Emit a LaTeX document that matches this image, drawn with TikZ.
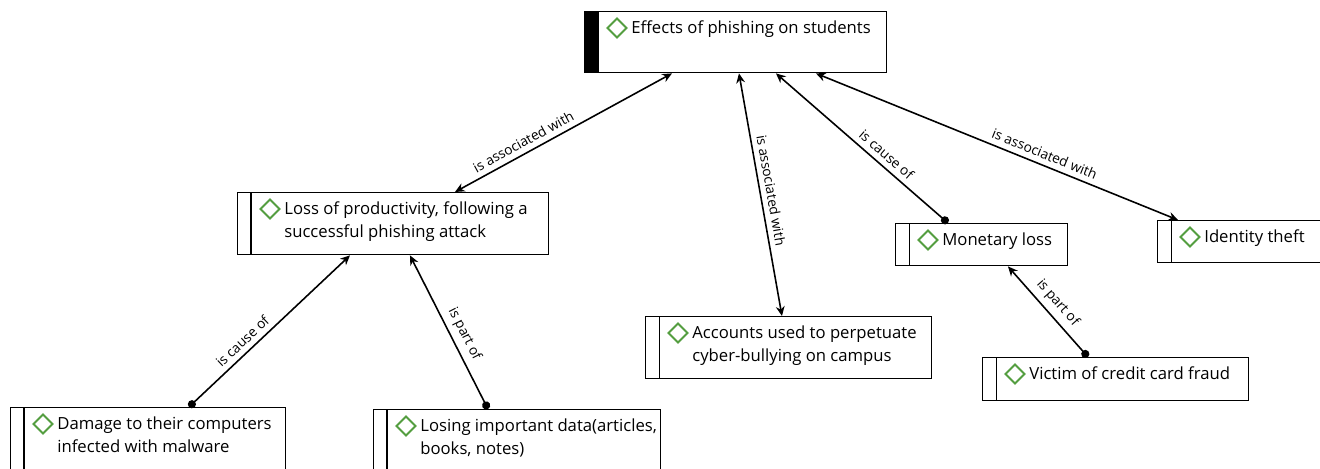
\documentclass[tikz,border=0pt]{standalone}
\usepackage{fontspec}
\setmainfont{Open Sans}
\usetikzlibrary{arrows.meta,shapes.geometric}

\definecolor{gemgreen}{RGB}{84,158,64}

% concept box: style, name, north west corner, width, height, text
\newcommand{\concept}[6]{%
  \node[#1, minimum width=#4, minimum height=#5] (#2) at (#3) {};
  \node[gem] (#2-gem) at ([xshift=0.66cm,yshift=-0.34cm]#2.north west) {};
  \node[conceptlabel] (#2-text) at ([xshift=0.94cm,yshift=-0.19cm]#2.north west) {#6};
}

\begin{document}
\begin{tikzpicture}[x=0.02cm, y=-0.02cm,
  conceptbox/.style={draw, line width=0.8pt, rectangle, anchor=north west, inner sep=0pt,
    path picture={\draw[line width=0.8pt] ([xshift=0.27cm]path picture bounding box.north west)
      -- ([xshift=0.27cm]path picture bounding box.south west);}},
  rootbox/.style={draw, line width=0.8pt, rectangle, anchor=north west, inner sep=0pt,
    path picture={\fill (path picture bounding box.north west)
      rectangle ([xshift=0.28cm]path picture bounding box.south west);}},
  gem/.style={diamond, draw=gemgreen, line width=1.1pt, minimum size=0.4cm, inner sep=0pt},
  conceptlabel/.style={anchor=north west, inner sep=0pt, align=left,
    font=\fontsize{9.5}{12.8}\selectfont},
  link/.style={line width=0.9pt},
  linklabel/.style={sloped, font=\fontsize{7.8}{9}\selectfont, inner sep=3pt},
  tip/.tip={Stealth[length=5.5pt,width=5pt]},
  dot/.tip={Circle[length=4.6pt]}]

\useasboundingbox (0,0) rectangle (1320,469);

\concept{rootbox}{effects}{584,11}{6.04cm}{1.22cm}{Effects of phishing on students}
\concept{conceptbox}{loss}{237,192}{6.22cm}{1.24cm}{Loss of productivity, following a\\successful phishing attack}
\concept{conceptbox}{damage}{10,407}{5.5cm}{1.4cm}{Damage to their computers\\infected with malware}
\concept{conceptbox}{losing}{373,409}{5.74cm}{1.4cm}{Losing important data(articles,\\books, notes)}
\concept{conceptbox}{accounts}{645,316}{5.72cm}{1.24cm}{Accounts used to perpetuate\\cyber-bullying on campus}
\concept{conceptbox}{monetary}{895,223}{3.44cm}{0.84cm}{Monetary loss}
\concept{conceptbox}{identity}{1157,220}{3.5cm}{0.84cm}{Identity theft}
\concept{conceptbox}{victim}{982,357}{5.32cm}{0.86cm}{Victim of credit card fraud}

% links from the root
\draw[link, tip-tip] ([xshift=4.36cm]loss.north west) --
  node[linklabel, above, pos=0.34] {is associated with} ([xshift=1.76cm]effects.south west);
\draw[link, tip-tip] ([xshift=3.1cm]effects.south west) --
  node[linklabel, above, pos=0.49] {is associated with} ([xshift=2.74cm]accounts.north west);
\draw[link, tip-dot] ([xshift=3.84cm]effects.south west) --
  node[linklabel, above, pos=0.6] {is cause of} ([xshift=1.06cm]monetary.north west);
\draw[link, tip-tip] ([xshift=4.64cm]effects.south west) --
  node[linklabel, above, pos=0.62] {is associated with} ([xshift=0.42cm]identity.north west);

% links to the lower concepts
\draw[link, dot-tip] ([xshift=3.58cm]damage.north west) --
  node[linklabel, above, pos=0.38] {is cause of} ([xshift=2.26cm]loss.south west);
\draw[link, tip-dot] ([xshift=3.46cm]loss.south west) --
  node[linklabel, above, pos=0.55] {is part of} ([xshift=2.3cm]losing.north west);
\draw[link, tip-dot] ([xshift=2.26cm]monetary.south west) --
  node[linklabel, above, pos=0.5] {is part of} ([xshift=2.12cm]victim.north west);

\end{tikzpicture}
\end{document}
